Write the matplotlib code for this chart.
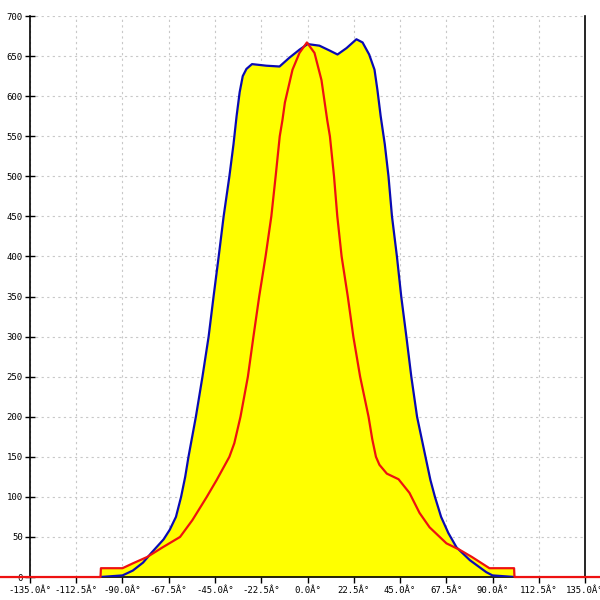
import numpy as np
import matplotlib
matplotlib.use("Agg")
import matplotlib.pyplot as plt

# blue envelope (filled yellow)
blueX = [-101, -90, -85, -80, -76, -70, -67, -64, -61.5, -59.5, -57.9, -54.3, -51.1, -48.1, -45.7, -43.2,
         -40.8, -38.0, -36, -34.5, -33, -31.5, -29.7, -27, -20, -13.6, -8.8, -3.9, 0,
         5.8, 10.7, 14.6, 19, 23.8, 26.8, 30, 32.6, 34, 35.6, 37.6, 39.4, 41.1, 43.5, 45.6,
         48.1, 50.5, 53.3, 57.4, 59.8, 62, 65, 68.5, 72.5, 79, 87, 90, 101]
blueY = [0, 2, 8, 18, 30, 47, 59, 75, 100, 125, 150, 200, 250, 300, 350, 400,
         450, 500, 540, 575, 605, 625, 634, 640, 638, 637, 648, 658, 665,
         663, 657, 652, 660, 671, 667, 652, 633, 608, 575, 540, 500, 450, 400, 350,
         300, 250, 200, 150, 121, 100, 75, 55, 37, 21, 6, 2, 0]

# red curve
redX = [-151, -100.7, -100.5, -90, -85, -78, -70.5, -62, -56, -49, -44.2, -38, -35.6, -32.6,
        -29, -26.3, -23.5, -20.4, -17.6, -15.5, -13.5, -12.2, -11, -7.3, -3.9, -0.3, 3.4,
        6.8, 9.6, 10.9, 12.9, 14.5, 16.6, 19.6, 22.3, 25.6, 29.7, 31.5, 33.3, 35, 38.6, 44.3,
        49.6, 54.5, 59.4, 67.6, 74, 80, 88.5, 100.5, 100.7, 144]
redY = [0, 0, 11, 11, 17, 25, 37, 50, 71, 100, 121, 150, 167, 200,
        250, 300, 350, 400, 450, 500, 550, 570, 592, 633, 654, 667, 654,
        620, 570, 550, 500, 450, 400, 350, 300, 250, 200, 172, 150, 140, 129, 122,
        105, 80, 62, 42, 34, 25, 11, 11, 0, 0]

xticks = np.arange(-135, 135.1, 22.5)
xlabels = [f"{t:.1f}Â°" for t in xticks]
yticks = np.arange(0, 701, 50)

fig = plt.figure(figsize=(6, 6), dpi=100)
ax = fig.add_axes([0.05, 0.0383, 0.925, 0.935])

ax.fill_between(blueX, blueY, 0, color="#ffff00", lw=0, zorder=2)
ax.fill_between(redX, redY, 0, color="#ffff00", lw=0, zorder=2)
ax.plot(blueX, blueY, color="#0a0ab4", lw=1.6, zorder=3)
ax.plot(redX, redY, color="#ee1111", lw=1.6, zorder=4, clip_on=False)

ax.set_xlim(-135, 135)
ax.set_ylim(0, 700)
ax.set_xticks(xticks)
ax.set_xticklabels(xlabels)
ax.set_yticks(yticks)

ax.grid(True, linestyle=(0, (2, 3)), color="#c8c8c8", linewidth=0.8)
ax.set_axisbelow(True)
ax.spines["top"].set_visible(False)
for s in ["left", "right", "bottom"]:
    ax.spines[s].set_color("black")
    ax.spines[s].set_linewidth(1.2)

ax.tick_params(axis="x", direction="out", length=4.5, width=1, pad=2,
               labelsize=6.5, labelfontfamily="DejaVu Sans Mono")
ax.tick_params(axis="y", direction="inout", length=6.5, width=1, pad=2,
               labelsize=6.5, labelfontfamily="DejaVu Sans Mono")

fig.savefig("out.png", dpi=100)
